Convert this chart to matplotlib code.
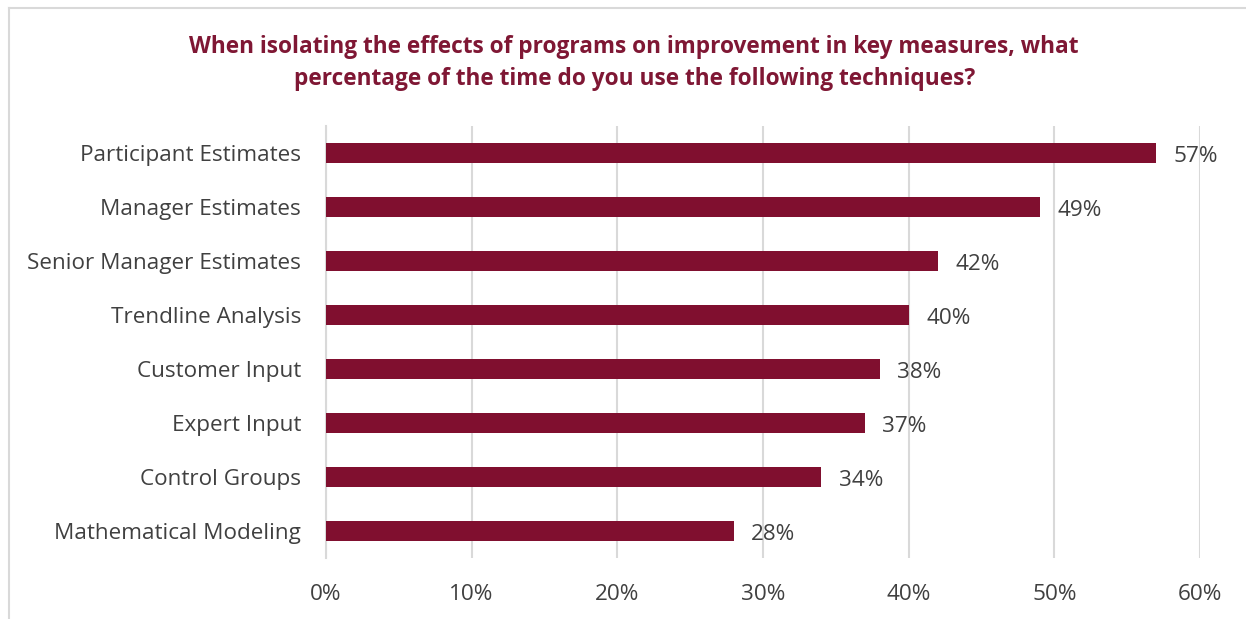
import matplotlib
matplotlib.use("Agg")
import matplotlib.pyplot as plt
from matplotlib.lines import Line2D

categories = [
    "Participant Estimates",
    "Manager Estimates",
    "Senior Manager Estimates",
    "Trendline Analysis",
    "Customer Input",
    "Expert Input",
    "Control Groups",
    "Mathematical Modeling",
]
values = [57, 49, 42, 40, 38, 37, 34, 28]
xticks = [0, 10, 20, 30, 40, 50, 60]
title = ("When isolating the effects of programs on improvement in key measures, what\n"
         "percentage of the time do you use the following techniques?")

bar_color = "#800F2F"
title_color = "#7F1734"
text_color = "#404040"
grid_color = "#D9D9D9"

plt.rcParams["font.family"] = ["Open Sans", "DejaVu Sans"]

W, H = 1246, 619
fig = plt.figure(figsize=(W / 100, H / 100), dpi=100)
ax = fig.add_axes([326 / W, 1 - 558 / H, (1200 - 326) / W, (558 - 126) / H])

ypos = list(range(len(categories)))
ax.barh(ypos, values, height=0.37, color=bar_color, zorder=3)
ax.set_ylim(len(categories) - 0.5, -0.5)
ax.set_xlim(0, 60)
ax.set_yticks(ypos)
ax.set_yticklabels(categories, fontsize=16.2, color=text_color)
ax.set_xticks(xticks)
ax.set_xticklabels([f"{t}%" for t in xticks], fontsize=16.2, color=text_color)
ax.tick_params(axis="both", length=0)
ax.tick_params(axis="y", pad=18)
ax.tick_params(axis="x", pad=19)

ax.xaxis.grid(True, color=grid_color, linewidth=1.5, zorder=0)
for side in ["top", "right", "bottom"]:
    ax.spines[side].set_visible(False)
ax.spines["left"].set_color(grid_color)
ax.spines["left"].set_linewidth(1.5)

for y, v in zip(ypos, values):
    ax.annotate(f"{v}%", (v, y), xytext=(12.5, -2.5), textcoords="offset points",
                va="center", ha="left", fontsize=16.2, color=text_color, zorder=4)

fig.text(0.509, 1 - 63 / H, title, ha="center", va="center", fontsize=16.3,
         fontweight="bold", color=title_color, linespacing=1.45)

# outer frame (left and top edges)
fig.add_artist(Line2D([9 / W, 9 / W], [0, 1 - 8 / H], transform=fig.transFigure,
                      color="#D9D9D9", linewidth=1.5))
fig.add_artist(Line2D([9 / W, 1], [1 - 8 / H, 1 - 8 / H], transform=fig.transFigure,
                      color="#D9D9D9", linewidth=1.5))

fig.savefig("out.png", dpi=100, facecolor="white")
